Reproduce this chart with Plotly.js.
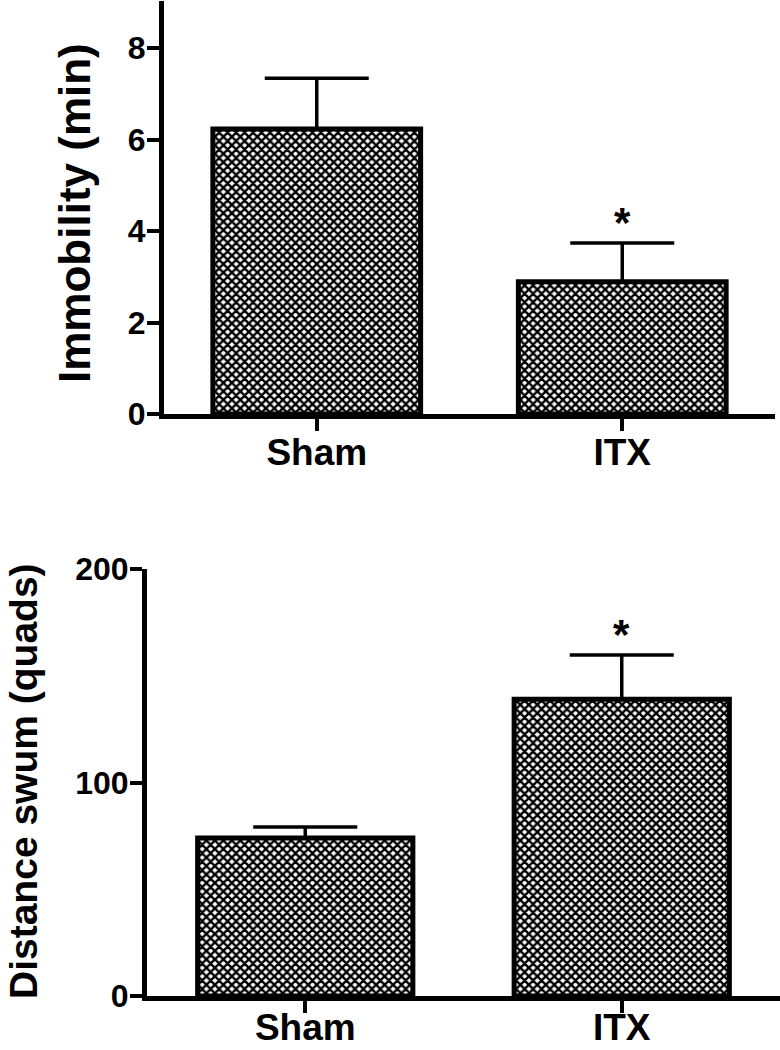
<!DOCTYPE html>
<html>
<head>
<meta charset="utf-8">
<script src="https://cdn.plot.ly/plotly-3.0.1.min.js"></script>
<style>
  html, body { margin: 0; padding: 0; background: #ffffff; }
  #chart { width: 780px; height: 1050px; }
</style>
</head>
<body>
<div id="chart"></div>
<script>
// ---- data ----
var categories = ['Sham', 'ITX'];
var immobilityMean = [6.23, 2.89];
var immobilitySem = [1.11, 0.85];
var distanceMean = [74, 139];
var distanceSem = [5.2, 20.7];
var topTicks = [0, 2, 4, 6, 8];
var bottomTicks = [0, 100, 200];
var immobilityTitle = 'Immobility (min)';
var distanceTitle = 'Distance swum (quads)';
var significantGroup = 'ITX';

// ---- styling ----
var FONT = 'Arial, "Liberation Sans", Helvetica, sans-serif';
var W = 780, H = 1050;
function px(x) { return x / W; }
function py(y) { return 1 - y / H; }

var pattern = { shape: 'x', size: 6, solidity: 0.65, fgcolor: '#000000', bgcolor: '#ffffff', fillmode: 'replace' };

function barTrace(xa, ya, means, sems) {
  return {
    type: 'bar',
    x: categories,
    y: means,
    xaxis: xa,
    yaxis: ya,
    marker: { color: '#ffffff', pattern: pattern, line: { color: '#000000', width: 5 } },
    error_y: { type: 'data', symmetric: false, array: sems, arrayminus: sems.map(function () { return 0; }),
               color: '#000000', thickness: 3.5, width: 52 },
    showlegend: false,
    hoverinfo: 'skip'
  };
}

var data = [
  barTrace('x', 'y', immobilityMean, immobilitySem),
  barTrace('x2', 'y2', distanceMean, distanceSem)
];

function xAxis(domain, anchor, standoff) {
  return {
    domain: domain, anchor: anchor, type: 'category', range: [-0.5, 1.5],
    showline: true, linecolor: '#000000', linewidth: 5,
    ticks: 'outside', ticklen: 12, tickwidth: 4, tickcolor: '#000000',
    ticklabelstandoff: standoff,
    showgrid: false, zeroline: false, fixedrange: true,
    tickfont: { family: FONT, size: 37, color: '#000000', weight: 'bold' }
  };
}
function yAxis(domain, anchor, range, ticks) {
  return {
    domain: domain, anchor: anchor, range: range,
    tickmode: 'array', tickvals: ticks, ticktext: ticks.map(String),
    showline: true, linecolor: '#000000', linewidth: 5,
    ticks: 'outside', ticklen: 12, tickwidth: 4, tickcolor: '#000000',
    ticklabelstandoff: -5,
    showgrid: false, zeroline: false, fixedrange: true,
    tickfont: { family: FONT, size: 32, color: '#000000', weight: 'bold' }
  };
}

var idx = categories.indexOf(significantGroup);

var layout = {
  width: W, height: H,
  margin: { l: 0, r: 0, t: 0, b: 0 },
  paper_bgcolor: '#ffffff', plot_bgcolor: '#ffffff',
  bargap: 0.32,
  xaxis: xAxis([px(164), px(775)], 'y', -10),
  yaxis: yAxis([py(414), py(1)], 'x', [0, 413 / 45.75], topTicks),
  xaxis2: xAxis([px(147), px(780)], 'y2', -17),
  yaxis2: yAxis([py(996), py(569)], 'x2', [0, 200], bottomTicks),
  annotations: [
    { text: immobilityTitle, xref: 'paper', yref: 'paper', x: px(74), y: py(213),
      xanchor: 'center', yanchor: 'middle', textangle: -90, showarrow: false,
      font: { family: FONT, size: 44, color: '#000000', weight: 'bold' } },
    { text: distanceTitle, xref: 'paper', yref: 'paper', x: px(23), y: py(781),
      xanchor: 'center', yanchor: 'middle', textangle: -90, showarrow: false,
      font: { family: FONT, size: 39, color: '#000000', weight: 'bold' } },
    { text: '*', xref: 'x', yref: 'y', x: categories[idx], y: immobilityMean[idx] + immobilitySem[idx],
      xanchor: 'center', yanchor: 'bottom', showarrow: false, yshift: -5,
      font: { family: FONT, size: 42, color: '#000000', weight: 'bold' } },
    { text: '*', xref: 'x2', yref: 'y2', x: categories[idx], y: distanceMean[idx] + distanceSem[idx],
      xanchor: 'center', yanchor: 'bottom', showarrow: false, yshift: -5,
      font: { family: FONT, size: 42, color: '#000000', weight: 'bold' } }
  ]
};

Plotly.newPlot('chart', data, layout, { staticPlot: true, displayModeBar: false });
</script>
</body>
</html>
